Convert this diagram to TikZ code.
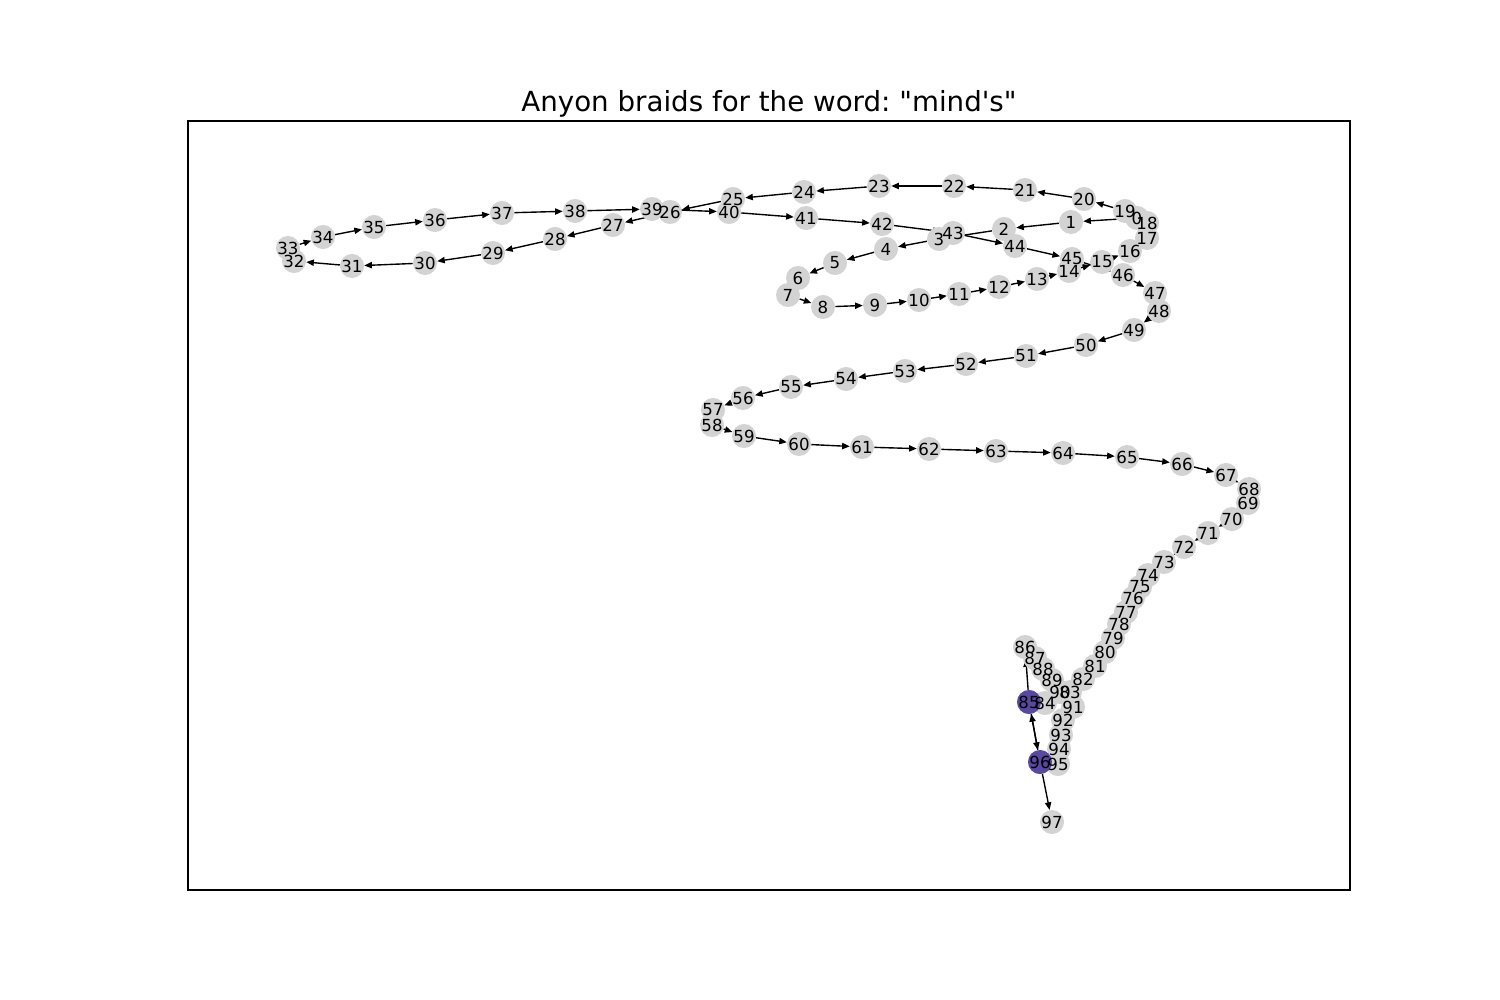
\documentclass[tikz,border=0pt]{standalone}
\usepackage{fontspec}
\setmainfont{DejaVu Sans}[Ligatures=TeXOff]
\frenchspacing
\usetikzlibrary{arrows.meta}

\definecolor{anyongray}{HTML}{D3D3D3}
\definecolor{braidpurple}{RGB}{88,72,160}

\pgfdeclarelayer{edges}
\pgfdeclarelayer{labels}
\pgfsetlayers{edges,main,labels}

\tikzset{
  anyon/.style={circle,fill=anyongray,minimum size=0.24in,inner sep=0pt},
  braided/.style={anyon,fill=braidpurple},
  link/.style={line width=1pt,-{Triangle[length=5.5pt,width=4.5pt]}},
  tag/.style={font=\fontsize{12pt}{14pt}\selectfont,inner sep=0pt},
}

\begin{document}
\begin{tikzpicture}[x=0.01in,y=-0.01in]

  \useasboundingbox (0,0) rectangle (1500,1000);

  % axes frame and title
  \draw[line width=0.8pt] (188,121) rectangle (1350,890);
  \node[anchor=base,inner sep=0pt,font=\fontsize{20pt}{24pt}\selectfont] (title) at (769,112) {Anyon braids for the word: "mind's"};

  % anyons
  \foreach \n/\x/\y in {
    0/1137/218, 1/1071/222, 2/1004/229, 3/939/239, 4/886/249, 5/835/263,
    6/798/278, 7/788/295, 8/823/307, 9/875/305, 10/919/300, 11/959/294,
    12/999/287, 13/1037/279, 14/1069/271, 15/1102/262, 16/1130/251,
    17/1147/238, 18/1147/223, 19/1125/211, 20/1084/199, 21/1025/190,
    22/954/186, 23/879/186, 24/804/192, 25/733/199, 26/670/212, 27/613/225,
    28/555/239, 29/493/253, 30/425/263, 31/352/266, 32/294/261, 33/288/248,
    34/323/237, 35/374/227, 36/435/220, 37/502/213, 38/575/211, 39/652/209,
    40/729/212, 41/806/218, 42/882/224, 43/953/233, 44/1015/246, 45/1072/259,
    46/1123/275, 47/1155/293, 48/1159/311, 49/1134/330, 50/1086/345,
    51/1026/356, 52/966/364, 53/905/371, 54/846/379, 55/791/387, 56/743/398,
    57/713/410, 58/712/425, 59/744/436, 60/799/444, 61/862/447, 62/929/449,
    63/996/451, 64/1063/453, 65/1127/457, 66/1182/464, 67/1226/475,
    68/1249/489, 69/1248/503, 70/1232/519, 71/1208/533, 72/1184/547,
    73/1164/562, 74/1148/575, 75/1140/587, 76/1133/598, 77/1126/612,
    78/1119/624, 79/1113/638, 80/1105/652, 81/1095/666, 82/1083/679,
    83/1070/692, 84/1045/703, 85/1029/702, 86/1025/647, 87/1035/658,
    88/1043/669, 89/1052/680, 90/1060/692, 91/1073/707, 92/1063/720,
    93/1061/735, 94/1059/749, 95/1058/764, 96/1040/762, 97/1052/822}
  {
    \node[anyon] (n\n) at (\x,\y) {};
    \begin{pgfonlayer}{labels}
      \node[tag] at (n\n) {\n};
    \end{pgfonlayer}
  }

  \node[braided] at (n85) {};
  \node[braided] at (n96) {};

  % braid word
  \begin{pgfonlayer}{edges}
    \foreach \i [evaluate=\i as \j using int(\i+1)] in {0,...,96}
      \draw[link] (n\i) -- (n\j);
    \draw[link] (n85) -- (n96);
    \draw[link] (n96) -- (n85);
  \end{pgfonlayer}

\end{tikzpicture}
\end{document}
